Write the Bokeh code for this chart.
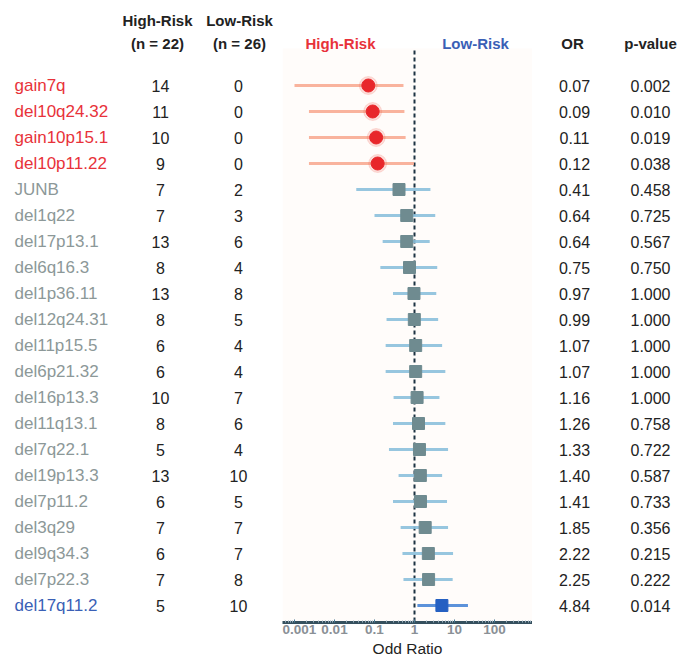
import numpy as np
from bokeh.plotting import figure
from bokeh.layouts import row
from bokeh.models import Range1d, ColumnDataSource, FixedTicker, CustomJSTickFormatter
from bokeh.core.properties import value
from bokeh.embed import file_html
from bokeh.resources import INLINE

# ---------------- data ----------------
labels = ["gain7q", "del10q24.32", "gain10p15.1", "del10p11.22", "JUNB", "del1q22",
          "del17p13.1", "del6q16.3", "del1p36.11", "del12q24.31", "del11p15.5",
          "del6p21.32", "del16p13.3", "del11q13.1", "del7q22.1", "del19p13.3",
          "del7p11.2", "del3q29", "del9q34.3", "del7p22.3", "del17q11.2"]
high_n = [14, 11, 10, 9, 7, 7, 13, 8, 13, 8, 6, 6, 10, 8, 5, 13, 6, 7, 6, 7, 5]
low_n = [0, 0, 0, 0, 2, 3, 6, 4, 8, 5, 4, 4, 7, 6, 4, 10, 5, 7, 7, 8, 10]
odds = [0.07, 0.09, 0.11, 0.12, 0.41, 0.64, 0.64, 0.75, 0.97, 0.99, 1.07, 1.07,
        1.16, 1.26, 1.33, 1.40, 1.41, 1.85, 2.22, 2.25, 4.84]
odds_txt = ["0.07", "0.09", "0.11", "0.12", "0.41", "0.64", "0.64", "0.75", "0.97", "0.99",
            "1.07", "1.07", "1.16", "1.26", "1.33", "1.40", "1.41", "1.85", "2.22", "2.25", "4.84"]
pvals = ["0.002", "0.010", "0.019", "0.038", "0.458", "0.725", "0.567", "0.750", "1.000",
         "1.000", "1.000", "1.000", "1.000", "0.758", "0.722", "0.587", "0.733", "0.356",
         "0.215", "0.222", "0.014"]
ci_low = [0.001, 0.0023, 0.0023, 0.0023, 0.035, 0.10, 0.16, 0.14, 0.29, 0.20, 0.19,
          0.19, 0.30, 0.29, 0.23, 0.40, 0.29, 0.45, 0.50, 0.53, 1.18]
ci_high = [0.53, 0.56, 0.60, 0.97, 2.5, 3.3, 2.4, 3.7, 3.5, 3.9, 4.9, 5.9, 4.2, 5.9,
           6.9, 4.9, 6.5, 6.9, 9.2, 9.0, 21.7]
groups = ["high"] * 4 + ["ns"] * 16 + ["low"]
tick_vals = [0.001, 0.01, 0.1, 1, 10, 100]

# ---------------- styling ----------------
RED = "#e8323a"
BLUE = "#3a60b6"
GRAY = "#8c9898"
TXT = "#222222"
FONT = value("Liberation Sans")
label_color = {"high": RED, "ns": GRAY, "low": BLUE}
line_color = {"high": "#f8ab92", "ns": "#8cc0dc", "low": "#4a86d6"}
mark_color = {"high": "#e8272b", "ns": "#6f8b90", "low": "#2560c2"}

n = len(labels)
idx = list(range(n))
H = 662
FRAME_B = 40
frame_h = H - FRAME_B
y_top = -85 / 26
y_bot = (frame_h - 85) / 26
hdr1 = (20 - 85) / 26
hdr2 = (43 - 85) / 26

src = ColumnDataSource(dict(
    y=idx, label=labels, hi=[str(v) for v in high_n], lo=[str(v) for v in low_n],
    orv=odds, ortxt=odds_txt, p=pvals, cl=ci_low, ch=ci_high,
    lcol=[label_color[g] for g in groups],
    lncol=[line_color[g] for g in groups],
    mcol=[mark_color[g] for g in groups],
))


def base(width, x_range, **kw):
    f = figure(width=width, height=H, x_range=x_range,
               y_range=Range1d(y_bot, y_top), output_backend="svg",
               toolbar_location=None, min_border=0, min_border_bottom=FRAME_B, **kw)
    f.outline_line_color = None
    f.grid.visible = False
    return f


# ---------------- left table ----------------
left = base(282, Range1d(0, 282))
left.axis.visible = False
left.text(x=14, y="y", text="label", text_color="lcol", source=src, text_font=FONT,
          text_font_size="17px", text_baseline="middle", text_align="left")
left.text(x=160, y="y", text="hi", source=src, text_font=FONT, text_color=TXT,
          text_font_size="16px", text_baseline="middle", text_align="center")
left.text(x=238, y="y", text="lo", source=src, text_font=FONT, text_color=TXT,
          text_font_size="16px", text_baseline="middle", text_align="center")
left.text(x=[157, 239, 157, 239], y=[hdr1, hdr1, hdr2, hdr2],
          text=["High-Risk", "Low-Risk", "(n = 22)", "(n = 26)"],
          text_font=FONT, text_font_style="bold", text_color=TXT,
          text_font_size="15px", text_baseline="middle", text_align="center")

# ---------------- forest plot ----------------
mid = base(250, Range1d(10 ** -3.3, 10 ** 2.95), x_axis_type="log")
mid.background_fill_color = "white"
mid.yaxis.visible = False
mid.quad(left=10 ** -3.3, right=10 ** 2.95, top=(48 - 85) / 26, bottom=y_bot,
         fill_color="#fffcfa", line_color=None)
mid.segment(x0=1, x1=1, y0=(50 - 85) / 26, y1=y_bot, line_color="#1d3342",
            line_width=2, line_dash="4 3")
mid.segment(x0="cl", x1="ch", y0="y", y1="y", source=src, line_color="lncol",
            line_width=3, line_alpha=0.9)
hi_src = ColumnDataSource(dict(x=odds[:4], y=idx[:4]))
mid.scatter(x="x", y="y", source=hi_src, marker="circle", size=18,
            color="#f26a5a", alpha=0.2)
mid.scatter(x="x", y="y", source=hi_src, marker="circle", size=13,
            color=mark_color["high"])
sq_src = ColumnDataSource(dict(x=odds[4:], y=idx[4:], c=[mark_color[g] for g in groups[4:]]))
mid.scatter(x="x", y="y", source=sq_src, marker="square", size=12, color="c")
mid.text(x=[10 ** -1.85, 10 ** 1.525], y=[hdr2, hdr2], text=["High-Risk", "Low-Risk"],
         text_color=[RED, BLUE], text_font=FONT, text_font_style="bold",
         text_font_size="15px", text_baseline="middle", text_align="center")

ax = mid.xaxis[0]
minor = [m * 10.0 ** e for e in range(-4, 3) for m in range(2, 10)]
ax.ticker = FixedTicker(ticks=tick_vals, minor_ticks=minor)
ax.formatter = CustomJSTickFormatter(code="return tick >= 1 ? tick.toFixed(0) : String(tick);")
ax.axis_line_color = "#35505e"
ax.axis_line_width = 3
ax.major_tick_line_color = "#4a7a96"
ax.major_tick_in = 3
ax.major_tick_out = 0
ax.minor_tick_line_color = "#9ab0bf"
ax.minor_tick_in = 2
ax.minor_tick_out = 0
ax.major_label_text_font = "Liberation Sans"
ax.major_label_text_font_style = "bold"
ax.major_label_text_font_size = "13.5px"
ax.major_label_text_color = "#8a9096"
ax.major_label_standoff = 2
ax.axis_label = "Odd Ratio"
ax.axis_label_text_font = "Liberation Sans"
ax.axis_label_text_font_style = "normal"
ax.axis_label_text_font_size = "15.5px"
ax.axis_label_text_color = TXT
ax.axis_label_standoff = 3

# ---------------- right table ----------------
right = base(147, Range1d(0, 147))
right.axis.visible = False
right.text(x=42, y="y", text="ortxt", source=src, text_font=FONT, text_color=TXT,
           text_font_size="16px", text_baseline="middle", text_align="center")
right.text(x=118, y="y", text="p", source=src, text_font=FONT, text_color=TXT,
           text_font_size="16px", text_baseline="middle", text_align="center")
right.text(x=[40, 118], y=[hdr2, hdr2], text=["OR", "p-value"], text_font=FONT,
           text_font_style="bold", text_color=TXT, text_font_size="15px",
           text_baseline="middle", text_align="center")

layout = row(left, mid, right)
open("out.html", "w").write(file_html(layout, INLINE))
